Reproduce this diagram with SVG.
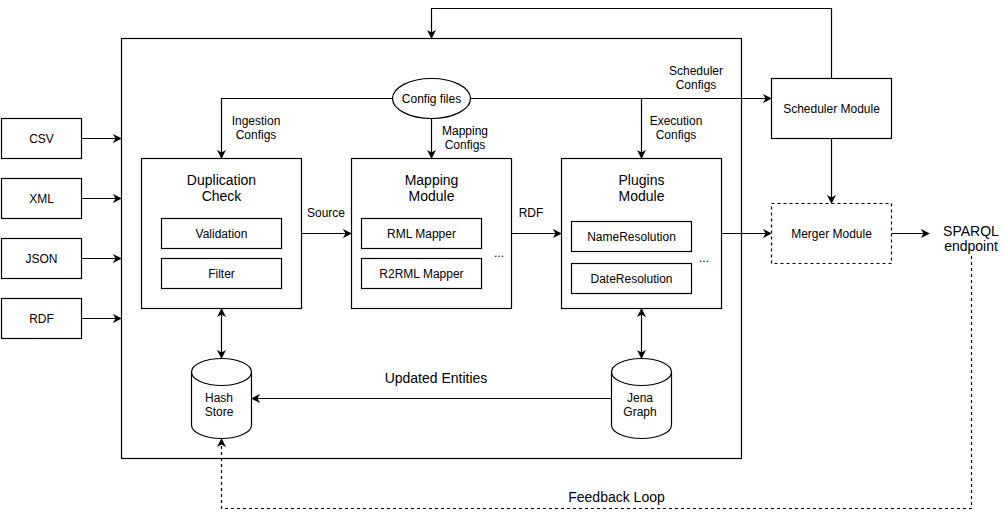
<svg xmlns="http://www.w3.org/2000/svg" width="1004" height="519" viewBox="0 0 1004 519">
<defs>
<marker id="arr" viewBox="0 0 10 10" refX="9" refY="5" markerWidth="9" markerHeight="9" markerUnits="userSpaceOnUse" orient="auto-start-reverse">
<path d="M0,0 L10,5 L0,10 L3,5 z" fill="#000"/>
</marker>
<style>
.b{fill:#fff;stroke:#000;stroke-width:1.2}
.d{fill:#fff;stroke:#000;stroke-width:1.2;stroke-dasharray:3,3}
.l{fill:none;stroke:#000;stroke-width:1.2}
.ld{fill:none;stroke:#000;stroke-width:1.2;stroke-dasharray:3,3}
text{font-family:"Liberation Sans",Arial,sans-serif;fill:#000;text-anchor:middle}
.s{font-size:12px}
.t{font-size:14px}
</style>
</defs>
<rect width="1004" height="519" fill="#fff"/>
<g id="container"><rect class="b" x="121.5" y="38.5" width="620" height="420"/></g>
<g id="connectors">
<path class="l" d="M831.5,78.5 V8.5 H431.5 V38" marker-end="url(#arr)"/>
<path class="l" d="M392.5,98.5 H221.5 V158" marker-end="url(#arr)"/>
<path class="l" d="M470,98.5 H771" marker-end="url(#arr)"/>
<path class="l" d="M641.5,98.5 V158" marker-end="url(#arr)"/>
<path class="l" d="M431.5,118.5 V158" marker-end="url(#arr)"/>
<path class="l" d="M81.5,138.5 H121" marker-end="url(#arr)"/>
<path class="l" d="M81.5,198.5 H121" marker-end="url(#arr)"/>
<path class="l" d="M81.5,258.5 H121" marker-end="url(#arr)"/>
<path class="l" d="M81.5,318.5 H121" marker-end="url(#arr)"/>
<path class="l" d="M301.5,233.5 H351" marker-end="url(#arr)"/>
<path class="l" d="M511.5,233.5 H561" marker-end="url(#arr)"/>
<path class="l" d="M721.5,233.5 H771" marker-end="url(#arr)"/>
<path class="l" d="M831.5,138.5 V203" marker-end="url(#arr)"/>
<path class="l" d="M891.5,233.5 H929" marker-end="url(#arr)"/>
<path class="l" d="M221.5,309 V358" marker-start="url(#arr)" marker-end="url(#arr)"/>
<path class="l" d="M641.5,309 V358" marker-start="url(#arr)" marker-end="url(#arr)"/>
<path class="l" d="M611,398.5 H252" marker-end="url(#arr)"/>
<path class="ld" d="M971.5,256 V508.5 H221.5 V439" marker-end="url(#arr)"/>
</g>
<g id="config-files"><ellipse class="b" cx="431.5" cy="98.5" rx="39" ry="20"/><text class="s" x="431.5" y="102.5">Config files</text></g>
<g id="label-ingestion"><text class="s" x="256" y="124.5">Ingestion</text><text class="s" x="256" y="138.5">Configs</text></g>
<g id="label-mapping"><text class="s" x="465" y="134.5">Mapping</text><text class="s" x="465" y="148.5">Configs</text></g>
<g id="label-scheduler"><text class="s" x="696" y="74.5">Scheduler</text><text class="s" x="696" y="88.5">Configs</text></g>
<g id="label-execution"><text class="s" x="676" y="124.5">Execution</text><text class="s" x="676" y="138.5">Configs</text></g>
<g id="scheduler"><rect class="b" x="771.5" y="78.5" width="120" height="60"/><text class="s" x="831.5" y="112.5">Scheduler Module</text></g>
<g id="csv"><rect class="b" x="1.5" y="118.5" width="80" height="40"/><text class="s" x="41.5" y="142.5">CSV</text></g>
<g id="xml"><rect class="b" x="1.5" y="178.5" width="80" height="40"/><text class="s" x="41.5" y="202.5">XML</text></g>
<g id="json"><rect class="b" x="1.5" y="238.5" width="80" height="40"/><text class="s" x="41.5" y="262.5">JSON</text></g>
<g id="rdf"><rect class="b" x="1.5" y="298.5" width="80" height="40"/><text class="s" x="41.5" y="322.5">RDF</text></g>
<g id="duplication"><rect class="b" x="141.5" y="158.5" width="160" height="150"/><text class="t" x="221.5" y="185">Duplication</text><text class="t" x="221.5" y="200.5">Check</text>
<rect class="b" x="161.5" y="218.5" width="120" height="30"/><text class="s" x="221.5" y="237.5">Validation</text>
<rect class="b" x="161.5" y="258.5" width="120" height="30"/><text class="s" x="221.5" y="277.5">Filter</text></g>
<g id="label-source"><text class="s" x="326" y="216.5">Source</text></g>
<g id="mapping"><rect class="b" x="351.5" y="158.5" width="160" height="150"/><text class="t" x="431.5" y="185">Mapping</text><text class="t" x="431.5" y="200.5">Module</text>
<rect class="b" x="361.5" y="218.5" width="120" height="30"/><text class="s" x="421.5" y="237.5">RML Mapper</text>
<rect class="b" x="361.5" y="258.5" width="120" height="30"/><text class="s" x="421.5" y="277.5">R2RML Mapper</text>
<text class="s" x="499" y="257">...</text></g>
<g id="label-rdf"><text class="s" x="531" y="216.5">RDF</text></g>
<g id="plugins"><rect class="b" x="561.5" y="158.5" width="160" height="150"/><text class="t" x="641.5" y="185">Plugins</text><text class="t" x="641.5" y="200.5">Module</text>
<rect class="b" x="571.5" y="221.5" width="120" height="30"/><text class="s" x="631.5" y="240.5">NameResolution</text>
<rect class="b" x="571.5" y="263.5" width="120" height="30"/><text class="s" x="631.5" y="282.5">DateResolution</text>
<text class="s" x="704" y="262">...</text></g>
<g id="merger"><rect class="d" x="771.5" y="203.5" width="120" height="60"/><text class="s" x="831.5" y="237.5">Merger Module</text></g>
<g id="sparql"><text class="t" x="971" y="236">SPARQL</text><text class="t" x="971" y="251">endpoint</text></g>
<g id="hash-store"><path class="b" d="M191.5,372 A30,13.5 0 0 1 251.5,372 V425 A30,13.5 0 0 1 191.5,425 Z"/><path class="l" d="M191.5,372 A30,13.5 0 0 0 251.5,372"/><text class="s" x="219" y="402">Hash</text><text class="s" x="219" y="416">Store</text></g>
<g id="jena-graph"><path class="b" d="M611.5,372 A30,13.5 0 0 1 671.5,372 V425 A30,13.5 0 0 1 611.5,425 Z"/><path class="l" d="M611.5,372 A30,13.5 0 0 0 671.5,372"/><text class="s" x="640" y="402">Jena</text><text class="s" x="640" y="416">Graph</text></g>
<g id="label-updated"><text class="t" x="436" y="383">Updated Entities</text></g>
<g id="label-feedback"><text class="t" x="616.5" y="502">Feedback Loop</text></g>
</svg>
